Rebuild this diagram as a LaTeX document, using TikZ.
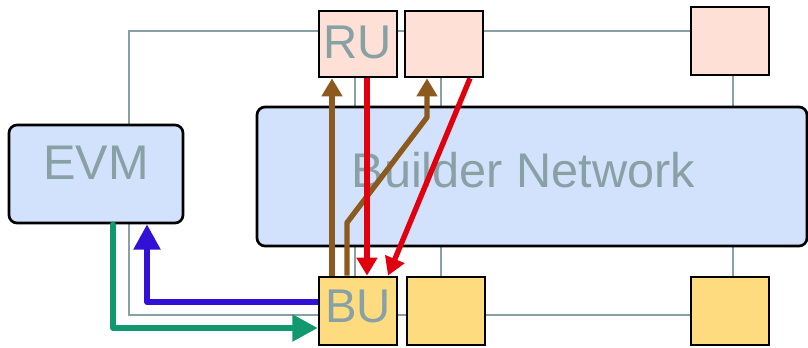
\documentclass[tikz,border=0pt]{standalone}
\usepackage{fontspec}
\setmainfont{Liberation Sans}
\usetikzlibrary{arrows.meta, calc, backgrounds}

\definecolor{rufill}{HTML}{FFE0D6}
\definecolor{bufill}{HTML}{FFDB80}
\definecolor{netfill}{HTML}{D3E2FC}
\definecolor{busgray}{HTML}{88A1A5}
\definecolor{brownflow}{HTML}{8C5A1E}
\definecolor{redflow}{HTML}{E0000E}
\definecolor{blueflow}{HTML}{3210D6}
\definecolor{greenflow}{HTML}{10986E}

\begin{document}
\begin{tikzpicture}[x=0.75pt, y=-0.75pt,
  unit/.style={draw, line width=2pt, minimum width=58.5pt, minimum height=49.5pt, inner sep=0pt,
    text=busgray, font=\fontsize{35.5}{40}\selectfont},
  ru/.style={unit, fill=rufill, text depth=3pt},
  bu/.style={unit, fill=bufill, minimum height=51pt, text depth=6.5pt},
  block/.style={draw, line width=2pt, rounded corners=6pt, fill=netfill, inner sep=0pt,
    text=busgray, font=\fontsize{36.5}{42}\selectfont},
  bus/.style={draw=busgray, line width=1.5pt},
  flow/.style={-{Triangle[width=15pt, length=13.5pt]}, line width=4pt, line join=round},
  link/.style={-{Triangle[width=19.5pt, length=19pt]}, line width=4.1pt, line join=round}]

\useasboundingbox (0,0) rectangle (808,347);

% --- Readout units (top) ---
\node[ru] (ru1) at (358,44) {RU};
\node[ru] (ru2) at (444,44) {};
\node[ru, minimum height=51pt] (ru3) at (730,41) {};

% --- Builder network and event manager ---
\node[block, minimum width=412.5pt, minimum height=104.25pt, text depth=9.75pt] (bn) at (532,176.5) {Builder Network\hspace*{13pt}};
\node[block, minimum width=130.5pt, minimum height=73.5pt, text depth=16.5pt] (evm) at (96,174) {EVM};

% --- Builder units (bottom) ---
\node[bu] (bu1) at (358,311) {BU};
\node[bu] (bu2) at (446,311) {};
\node[bu] (bu3) at (730,311) {};

% control buses and network taps
\coordinate (busT) at (129,31);
\coordinate (busB) at (129,315);
\begin{scope}[on background layer]
  \draw[bus] (evm.north -| busT) -- (busT) -- (busT -| ru3.west);
  \draw[bus] (evm.south -| busB) -- (busB) -- (busB -| bu3.west);
  \foreach \n/\dx in {ru1/-3, ru2/-3, ru3/3} {
    \path ($(\n)+(\dx,0)$) coordinate (tap);
    \draw[bus] (tap) -- (tap |- bn.north);
  }
  \foreach \n/\dx in {bu1/-3, bu2/-5, bu3/3} {
    \path ($(\n)+(\dx,0)$) coordinate (tap);
    \draw[bus] (tap) -- (tap |- bn.south);
  }
\end{scope}

% --- Data flow: BU requests up, RU fragments down ---
\draw[flow, brownflow] ($(bu1.north)+(-26,0)$) -- ($(ru1.south)+(-26,0)$);
\draw[flow, brownflow] ($(bu1.north)+(-11,0)$) -- ++(0,-53) -- ($(ru2.south)+(-17,39)$) -- ($(ru2.south)+(-17,0)$);
\draw[flow, redflow] ($(ru1.south)+(9,0)$) -- ($(bu1.north)+(9,0)$);
\draw[flow, redflow] ($(ru2.south)+(26,0)$) -- ($(bu1.north)+(30,0)$);

% --- BU <-> EVM handshake ---
\draw[link, blueflow] ($(bu1.west)+(0,-9)$) -| ($(evm.south)+(51,0)$);
\draw[link, greenflow, line cap=round] ($(evm.south)+(17,0)$) |- ($(bu1.west)+(0,17)$);

\end{tikzpicture}
\end{document}
